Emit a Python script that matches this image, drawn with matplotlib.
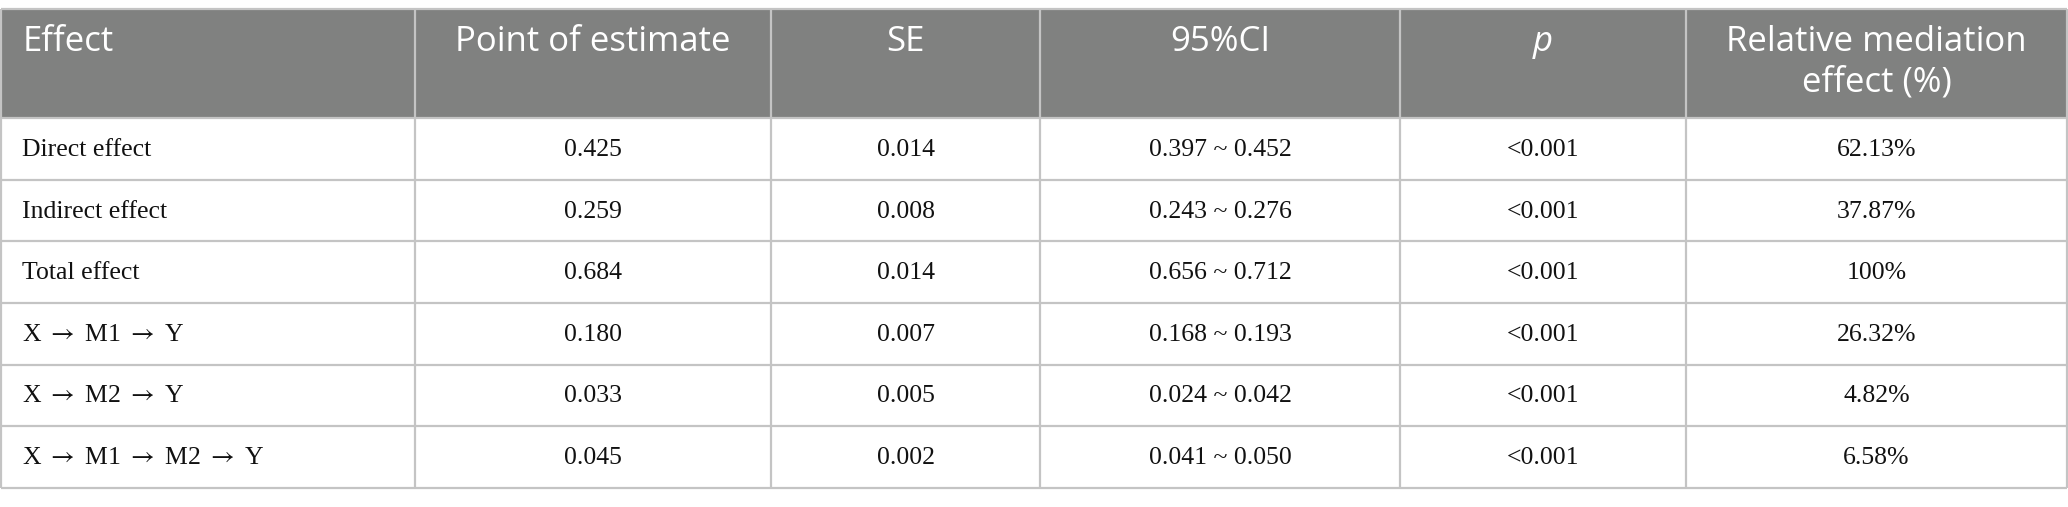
import matplotlib
matplotlib.use("Agg")
import matplotlib.pyplot as plt
from matplotlib.patches import Rectangle

plt.rcParams["mathtext.fontset"] = "stix"

# table content
headers = ["Effect", "Point of estimate", "SE", "95%CI", "p", "Relative mediation\neffect (%)"]
effects = ["Direct effect", "Indirect effect", "Total effect",
           r"X $\rightarrow$ M1 $\rightarrow$ Y", r"X $\rightarrow$ M2 $\rightarrow$ Y",
           r"X $\rightarrow$ M1 $\rightarrow$ M2 $\rightarrow$ Y"]
estimates = ["0.425", "0.259", "0.684", "0.180", "0.033", "0.045"]
se = ["0.014", "0.008", "0.014", "0.007", "0.005", "0.002"]
ci = ["0.397 ~ 0.452", "0.243 ~ 0.276", "0.656 ~ 0.712",
      "0.168 ~ 0.193", "0.024 ~ 0.042", "0.041 ~ 0.050"]
p_values = ["<0.001"] * 6
relative = ["62.13%", "37.87%", "100%", "26.32%", "4.82%", "6.58%"]

W, H = 2068, 507
col_edges = [1, 415, 771, 1040, 1400, 1686, 2067]
top, head_bot, bottom = 9, 118, 488
n_rows = len(effects)
row_h = (bottom - head_bot) / n_rows

header_bg = "#808180"
grid_col = "#c4c4c4"
sans = ["Open Sans", "DejaVu Sans"]
serif = ["Liberation Serif", "DejaVu Serif"]

fig = plt.figure(figsize=(W / 100, H / 100), dpi=100)
ax = fig.add_axes([0, 0, 1, 1])
ax.set_xlim(0, W)
ax.set_ylim(H, 0)
ax.axis("off")

# header band
ax.add_patch(Rectangle((col_edges[0], top), col_edges[-1] - col_edges[0], head_bot - top,
                       facecolor=header_bg, edgecolor="none"))

# horizontal lines
ys = [top, head_bot] + [head_bot + row_h * (i + 1) for i in range(n_rows)]
for y in ys:
    ax.plot([col_edges[0], col_edges[-1]], [y, y], color=grid_col, lw=1.6, solid_capstyle="butt")
# vertical lines
for x in col_edges:
    ax.plot([x, x], [top, bottom], color=grid_col, lw=1.6, solid_capstyle="butt")

# header text
for j, h in enumerate(headers):
    if j == 0:
        x, ha = col_edges[0] + 22, "left"
    else:
        x, ha = (col_edges[j] + col_edges[j + 1]) / 2, "center"
    style = "italic" if h == "p" else "normal"
    ax.text(x, 25, h, ha=ha, va="top", fontsize=25, color="white",
            family=sans, style=style, linespacing=1.25)

# body text
columns = [effects, estimates, se, ci, p_values, relative]
for i in range(n_rows):
    yc = head_bot + row_h * (i + 0.5)
    for j, col in enumerate(columns):
        if j == 0:
            x, ha = col_edges[0] + 21, "left"
        else:
            x, ha = (col_edges[j] + col_edges[j + 1]) / 2, "center"
        ax.text(x, yc + 1, col[i], ha=ha, va="center", fontsize=18.5,
                color="#111111", family=serif)

fig.savefig("out.png", dpi=100, facecolor="white")
